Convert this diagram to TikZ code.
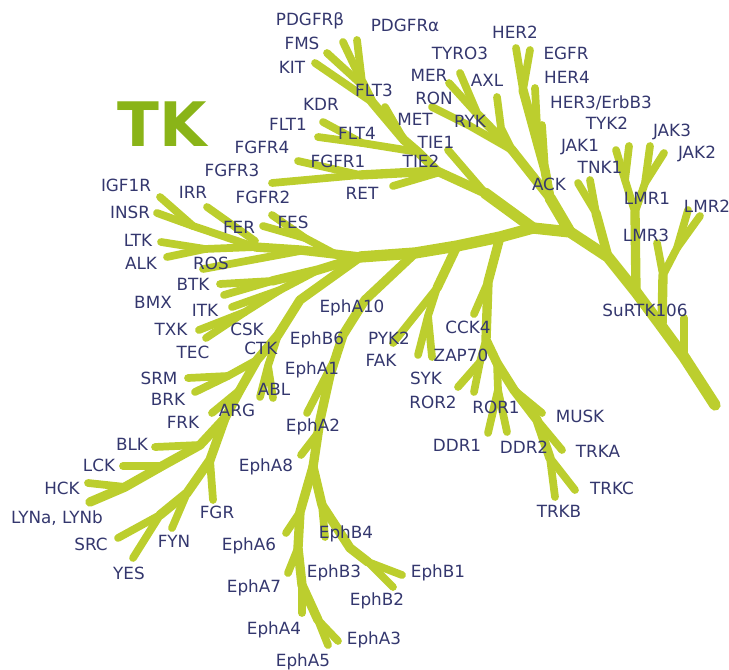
\documentclass[tikz,border=0pt]{standalone}
\usepackage{fontspec}
\setmainfont{DejaVu Sans}
\definecolor{gr}{RGB}{188,206,46}
\definecolor{tx}{RGB}{52,55,110}
\definecolor{tkg}{RGB}{138,180,24}
\tikzset{
  tr/.style={draw=gr,line width=8.5pt,line cap=round,line join=round},
  br/.style={draw=gr,line width=7pt,line cap=round,line join=round},
  lf/.style={draw=gr,line width=5.8pt,line cap=round,line join=round},
  lab/.style={text=tx,font=\fontsize{12.6}{14}\selectfont,inner sep=0pt,text depth=0pt,anchor=center}
}
\begin{document}
\begin{tikzpicture}[x=0.75pt,y=-0.75pt]
\useasboundingbox (0,0) rectangle (729,670);
% ---------- junctions ----------
\coordinate (hub) at (533,228);
\coordinate (m1) at (500,237);
\coordinate (m2) at (457,246);
\coordinate (m3) at (415,253);
\coordinate (m4) at (360,257);
% ---------- trunk ----------
\draw[tr] (715,405) -- (684,357) -- (662,327) -- (636,292) -- (608,257) -- (570,232) -- (hub) -- (m1) -- (m2) -- (m3) -- (m4);
% right side
\draw[lf] (684,357) -- (684,318);
\draw[br] (662,327) -- (663,275);
\draw[lf] (663,275) -- (657,243);
\draw[lf] (663,275) -- (677,248) -- (688,210);
\draw[lf] (677,248) -- (700,216);
\draw[br] (636,292) -- (635,212);
\draw[lf] (635,212) -- (625,180) -- (616,150);
\draw[lf] (625,180) -- (629,146);
\draw[lf] (635,212) -- (645,183) -- (650,146);
\draw[lf] (645,183) -- (664,153);
\draw[br] (608,257) -- (596,213);
\draw[lf] (596,213) -- (590,180);
\draw[lf] (596,213) -- (578,183);
% HER
\draw[tr] (570,232) -- (550,198);
\draw[br] (550,198) -- (545,170) -- (538,145) -- (523,90);
\draw[lf] (523,90) -- (516,48);
\draw[lf] (523,90) -- (530,50);
\draw[lf] (538,145) -- (535,88);
\draw[lf] (545,170) -- (542,125);
% AXL
\draw[br] (550,198) -- (512,150);
\draw[lf] (512,150) -- (501,128) -- (497,97);
\draw[br] (512,150) -- (478,115);
\draw[lf] (478,115) -- (460,73);
\draw[lf] (478,115) -- (449,83);
\draw[lf] (512,150) -- (470,126) -- (432,107);
% upper-left group
\draw[tr] (hub) -- (485,193);
\draw[br] (485,193) -- (437,171) -- (418,152) -- (404,140) -- (372,102) -- (362,82);
\draw[lf] (485,193) -- (448,150);
\draw[lf] (362,82) -- (343,42);
\draw[lf] (362,82) -- (357,40);
\draw[lf] (362,85) -- (327,53);
\draw[lf] (372,102) -- (315,63);
\draw[lf] (404,140) -- (385,107);
\draw[lf] (418,152) -- (362,143) -- (323,122);
\draw[lf] (362,143) -- (318,137);
\draw[br] (437,171) -- (360,175);
\draw[lf] (360,175) -- (298,161);
\draw[lf] (360,175) -- (272,183);
\draw[lf] (437,173) -- (393,186);
% CCK4 / DDR / TRK
\draw[br] (m1) -- (488,282) -- (486,340) -- (497,363);
\draw[lf] (488,282) -- (474,314);
\draw[lf] (486,340) -- (480,362) -- (458,387);
\draw[lf] (480,362) -- (474,392);
\draw[lf] (497,363) -- (498,390) -- (488,433);
\draw[lf] (498,390) -- (507,432);
\draw[br] (497,363) -- (514,390) -- (537,420) -- (550,458);
\draw[lf] (514,390) -- (542,413);
\draw[lf] (537,420) -- (562,450);
\draw[lf] (550,458) -- (555,497);
\draw[lf] (550,458) -- (575,490);
% SYK / FAK
\draw[br] (m2) -- (437,288);
\draw[lf] (437,288) -- (428,316) -- (418,355);
\draw[lf] (428,316) -- (432,357);
\draw[lf] (437,288) -- (393,343);
% Eph
\draw[br] (m3) -- (365,300) -- (343,335) -- (330,375) -- (320,420) -- (313,467);
\draw[lf] (337,355) -- (307,413);
\draw[lf] (318,433) -- (301,455);
\draw[br] (313,467) -- (300,512) -- (298,548) -- (302,585) -- (318,620);
\draw[lf] (300,512) -- (286,533);
\draw[lf] (298,548) -- (288,573);
\draw[lf] (302,585) -- (302,613);
\draw[lf] (318,620) -- (328,645);
\draw[lf] (318,620) -- (338,641);
\draw[br] (313,467) -- (322,505) -- (350,548) -- (368,562);
\draw[lf] (322,505) -- (325,537);
\draw[lf] (368,562) -- (402,575);
\draw[lf] (368,562) -- (393,587);
% INSR / ALK / FER
\draw[br] (m4) -- (300,250) -- (255,247);
\draw[lf] (255,247) -- (193,226) -- (160,197);
\draw[lf] (193,226) -- (157,213);
\draw[lf] (255,241) -- (207,207);
\draw[lf] (255,247) -- (205,249) -- (161,242);
\draw[lf] (205,249) -- (167,257);
\draw[lf] (300,251) -- (203,269);
\draw[lf] (335,254) -- (305,238) -- (272,215);
\draw[lf] (305,238) -- (263,226);
% TEC
\draw[br] (m4) -- (318,270) -- (272,281);
\draw[lf] (272,281) -- (220,284);
\draw[lf] (272,281) -- (224,295);
\draw[lf] (318,270) -- (280,290) -- (232,307);
\draw[lf] (280,290) -- (245,312) -- (199,330);
\draw[lf] (245,312) -- (206,338);
% CSK / SRC
\draw[br] (m4) -- (300,300) -- (278,335) -- (257,360) -- (240,390) -- (225,418);
\draw[lf] (278,335) -- (268,366) -- (260,397);
\draw[lf] (268,366) -- (273,398);
\draw[lf] (257,360) -- (228,376) -- (188,378);
\draw[lf] (228,376) -- (195,392);
\draw[lf] (240,390) -- (212,413);
\draw[br] (225,418) -- (200,445) -- (162,466) -- (125,487) -- (90,502);
\draw[lf] (200,445) -- (155,447);
\draw[lf] (162,466) -- (123,466);
\draw[lf] (125,487) -- (88,483);
\draw[br] (225,418) -- (210,460) -- (187,493) -- (160,515);
\draw[lf] (160,515) -- (118,538);
\draw[lf] (160,515) -- (133,558);
\draw[lf] (210,460) -- (213,500);
\draw[lf] (187,493) -- (172,528);
% ---------- title ----------
\node[text=tkg,font=\bfseries\fontsize{46}{50}\selectfont,inner sep=0pt,text depth=0pt] (title) at (162,124) {TK};
% ---------- labels ----------
\node[lab] (PDGFRb) at (310,19) {PDGFRβ};
\node[lab] (PDGFRa) at (405,25) {PDGFRα};
\node[lab] (FMS) at (302,43) {FMS};
\node[lab] (KIT) at (292,67) {KIT};
\node[lab] (FLT3) at (374,90) {FLT3};
\node[lab] (KDR) at (321,104) {KDR};
\node[lab] (FLT1) at (288,124) {FLT1};
\node[lab] (FLT4) at (357,133) {FLT4};
\node[lab] (FGFR4) at (262,147) {FGFR4};
\node[lab] (FGFR1) at (338,161) {FGFR1};
\node[lab] (FGFR3) at (232,170) {FGFR3};
\node[lab] (FGFR2) at (263,197) {FGFR2};
\node[lab] (RET) at (362,193) {RET};
\node[lab] (TYRO3) at (460,53) {TYRO3};
\node[lab] (MER) at (429,75) {MER};
\node[lab] (AXL) at (487,80) {AXL};
\node[lab] (RON) at (434,98) {RON};
\node[lab] (MET) at (415,119) {MET};
\node[lab] (RYK) at (470,121) {RYK};
\node[lab] (TIE1) at (436,142) {TIE1};
\node[lab] (TIE2) at (421,161) {TIE2};
\node[lab] (HER2) at (515,32) {HER2};
\node[lab] (EGFR) at (566,53) {EGFR};
\node[lab] (HER4) at (567,77) {HER4};
\node[lab] (HER3) at (601,102) {HER3/ErbB3};
\node[lab] (TYK2) at (607,123) {TYK2};
\node[lab] (JAK1) at (580,145) {JAK1};
\node[lab] (JAK3) at (672,130) {JAK3};
\node[lab] (JAK2) at (697,152) {JAK2};
\node[lab] (TNK1) at (600,167) {TNK1};
\node[lab] (ACK) at (549,184) {ACK};
\node[lab] (LMR1) at (647,198) {LMR1};
\node[lab] (LMR2) at (707,206) {LMR2};
\node[lab] (LMR3) at (646,235) {LMR3};
\node[lab] (SuRTK) at (645,310) {SuRTK106};
\node[lab] (IGF1R) at (126,185) {IGF1R};
\node[lab] (IRR) at (193,192) {IRR};
\node[lab] (INSR) at (130,212) {INSR};
\node[lab] (FER) at (239,227) {FER};
\node[lab] (FES) at (293,222) {FES};
\node[lab] (LTK) at (138,240) {LTK};
\node[lab] (ALK) at (141,263) {ALK};
\node[lab] (ROS) at (211,263) {ROS};
\node[lab] (BTK) at (193,284) {BTK};
\node[lab] (BMX) at (153,302) {BMX};
\node[lab] (ITK) at (205,310) {ITK};
\node[lab] (TXK) at (171,329) {TXK};
\node[lab] (TEC) at (193,352) {TEC};
\node[lab] (CSK) at (247,329) {CSK};
\node[lab] (CTK) at (261,348) {CTK};
\node[lab] (SRM) at (159,378) {SRM};
\node[lab] (BRK) at (168,399) {BRK};
\node[lab] (ABL) at (274,389) {ABL};
\node[lab] (ARG) at (237,410) {ARG};
\node[lab] (FRK) at (183,422) {FRK};
\node[lab] (BLK) at (132,444) {BLK};
\node[lab] (LCK) at (99,465) {LCK};
\node[lab] (HCK) at (62,488) {HCK};
\node[lab] (LYN) at (57,517) {LYNa, LYNb};
\node[lab] (FGR) at (217,512) {FGR};
\node[lab] (SRC) at (91,544) {SRC};
\node[lab] (FYN) at (174,541) {FYN};
\node[lab] (YES) at (129,573) {YES};
\node[lab] (EphA10) at (352,306) {EphA10};
\node[lab] (EphB6) at (317,338) {EphB6};
\node[lab] (EphA1) at (312,368) {EphA1};
\node[lab] (EphA2) at (313,425) {EphA2};
\node[lab] (EphA8) at (266,465) {EphA8};
\node[lab] (EphA6) at (249,544) {EphA6};
\node[lab] (EphB4) at (346,532) {EphB4};
\node[lab] (EphA7) at (254,586) {EphA7};
\node[lab] (EphB3) at (334,571) {EphB3};
\node[lab] (EphB1) at (438,571) {EphB1};
\node[lab] (EphB2) at (377,599) {EphB2};
\node[lab] (EphA4) at (274,628) {EphA4};
\node[lab] (EphA3) at (374,638) {EphA3};
\node[lab] (EphA5) at (303,660) {EphA5};
\node[lab] (PYK2) at (389,338) {PYK2};
\node[lab] (FAK) at (381,360) {FAK};
\node[lab] (CCK4) at (468,327) {CCK4};
\node[lab] (ZAP70) at (461,355) {ZAP70};
\node[lab] (SYK) at (426,378) {SYK};
\node[lab] (ROR2) at (433,402) {ROR2};
\node[lab] (ROR1) at (496,407) {ROR1};
\node[lab] (DDR1) at (457,445) {DDR1};
\node[lab] (DDR2) at (524,447) {DDR2};
\node[lab] (MUSK) at (580,416) {MUSK};
\node[lab] (TRKA) at (598,451) {TRKA};
\node[lab] (TRKC) at (612,488) {TRKC};
\node[lab] (TRKB) at (559,511) {TRKB};
\end{tikzpicture}
\end{document}
